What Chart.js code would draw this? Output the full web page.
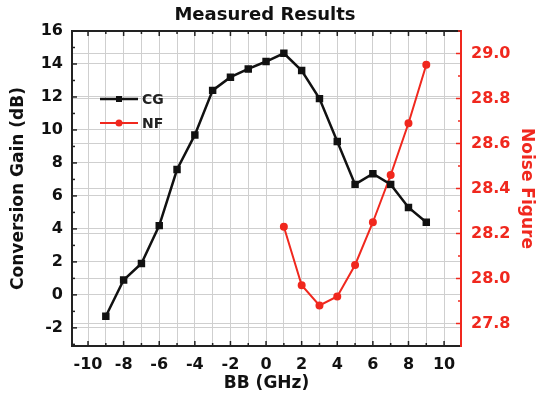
<!DOCTYPE html>
<html>
<head>
<meta charset="utf-8">
<script src="https://cdn.jsdelivr.net/npm/chart.js@4"></script>
<style>
  html, body { margin: 0; padding: 0; background: #fff; }
  #wrap { width: 539px; height: 410px; }
</style>
</head>
<body>
<div id="wrap"><canvas id="chart" width="539" height="410"></canvas></div>
<script>
// data
const bbCG = [-9, -8, -7, -6, -5, -4, -3, -2, -1, 0, 1, 2, 3, 4, 5, 6, 7, 8, 9];
const cgDb = [-1.3, 0.9, 1.9, 4.2, 7.6, 9.7, 12.4, 13.2, 13.7, 14.15, 14.65, 13.6, 11.9, 9.3, 6.7, 7.35, 6.7, 5.3, 4.4];
const bbNF = [1, 2, 3, 4, 5, 6, 7, 8, 9];
const nfDb = [28.23, 27.97, 27.88, 27.92, 28.06, 28.25, 28.46, 28.69, 28.95];

// tick labels
const xTicks = [-10, -9, -8, -7, -6, -5, -4, -3, -2, -1, 0, 1, 2, 3, 4, 5, 6, 7, 8, 9, 10];
const cgTicks = [-2, 0, 2, 4, 6, 8, 10, 12, 14, 16];
const nfTicks = [27.8, 28.0, 28.2, 28.4, 28.6, 28.8, 29.0];

const RED = '#f0281e';
const FONT = "'DejaVu Sans', sans-serif";

// title, top frame, inward tick marks, legend
const extras = {
  id: 'extras',
  afterDraw(chart) {
    const c = chart.ctx, a = chart.chartArea;
    const sx = chart.scales.x, sy = chart.scales.y, sr = chart.scales.y1;
    c.save();
    // top border
    c.strokeStyle = '#222'; c.lineWidth = 2;
    c.beginPath(); c.moveTo(a.left, a.top); c.lineTo(a.right, a.top); c.stroke();
    // x ticks (bottom + top)
    c.lineWidth = 1.5;
    for (let v = -10; v <= 10; v += 1) {
      const px = sx.getPixelForValue(v);
      const len = v % 2 === 0 ? 5 : 3;
      c.beginPath();
      c.moveTo(px, a.bottom); c.lineTo(px, a.bottom - len);
      c.moveTo(px, a.top); c.lineTo(px, a.top + len);
      c.stroke();
    }
    // left ticks
    for (let v = -3; v <= 16; v += 1) {
      const py = sy.getPixelForValue(v);
      const len = v % 2 === 0 ? 5 : 3;
      c.beginPath(); c.moveTo(a.left, py); c.lineTo(a.left + len, py); c.stroke();
    }
    // right ticks
    c.strokeStyle = RED;
    for (let k = 278; k <= 291; k++) {
      const py = sr.getPixelForValue(k / 10);
      const len = k % 2 === 0 ? 5 : 3;
      c.beginPath(); c.moveTo(a.right, py); c.lineTo(a.right - len, py); c.stroke();
    }
    // title
    c.fillStyle = '#111';
    c.font = "bold 18px " + FONT;
    c.textAlign = 'center'; c.textBaseline = 'middle';
    c.fillText('Measured Results', 265, 15);
    // legend
    const ds = chart.data.datasets;
    const lx = a.left + 28, ly = a.top + 68;
    ds.forEach((d, i) => {
      const y = ly + i * 24;
      c.strokeStyle = d.borderColor; c.lineWidth = d.borderWidth;
      c.beginPath(); c.moveTo(lx, y); c.lineTo(lx + 38, y); c.stroke();
      c.fillStyle = d.borderColor;
      if (d.pointStyle === 'rect') c.fillRect(lx + 16, y - 3, 6, 6);
      else { c.beginPath(); c.arc(lx + 19, y, 3.5, 0, Math.PI * 2); c.fill(); }
      c.fillStyle = '#222';
      c.font = "bold 14px " + FONT;
      c.textAlign = 'left';
      c.fillText(d.label, lx + 42, y + 1);
    });
    c.restore();
  }
};

new Chart(document.getElementById('chart'), {
  type: 'line',
  data: {
    datasets: [
      {
        label: 'CG',
        data: bbCG.map((x, i) => ({ x: x, y: cgDb[i] })),
        borderColor: '#111',
        backgroundColor: '#111',
        borderWidth: 2.5,
        pointStyle: 'rect',
        pointRadius: 3.5,
        tension: 0,
        yAxisID: 'y'
      },
      {
        label: 'NF',
        data: bbNF.map((x, i) => ({ x: x, y: nfDb[i] })),
        borderColor: RED,
        backgroundColor: RED,
        borderWidth: 2,
        pointStyle: 'circle',
        pointRadius: 3,
        tension: 0,
        yAxisID: 'y1'
      }
    ]
  },
  options: {
    responsive: false,
    animation: false,
    layout: { padding: { top: 31, left: 0, right: 0, bottom: 0 } },
    plugins: { legend: { display: false }, title: { display: false }, tooltip: { enabled: false } },
    scales: {
      x: {
        type: 'linear', min: -10.9, max: 10.95,
        afterBuildTicks: s => { s.ticks = xTicks.map(v => ({ value: v })); },
        afterFit: s => { s.height = 64; },
        grid: { color: '#cfcfcf', lineWidth: 1, drawTicks: false },
        border: { color: '#222', width: 2 },
        ticks: {
          autoSkip: false, maxRotation: 0, padding: 9,
          color: '#111', font: { family: FONT, size: 16, weight: 'bold' },
          callback: v => (v % 2 === 0 ? v : '')
        },
        title: { display: true, text: 'BB (GHz)', color: '#111', font: { family: FONT, size: 17, weight: 'bold' }, padding: { top: 0, bottom: 16 } }
      },
      y: {
        type: 'linear', position: 'left', min: -3.1, max: 16,
        afterBuildTicks: s => { s.ticks = cgTicks.map(v => ({ value: v })); },
        afterFit: s => { s.width = 72; },
        grid: { color: '#cfcfcf', lineWidth: 1, drawTicks: false },
        border: { color: '#222', width: 2 },
        ticks: { padding: 9, color: '#111', font: { family: FONT, size: 16, weight: 'bold' } },
        title: { display: true, text: 'Conversion Gain (dB)', color: '#111', font: { family: FONT, size: 17, weight: 'bold' }, padding: { top: 8, bottom: 0 } }
      },
      y1: {
        type: 'linear', position: 'right', min: 27.7, max: 29.1,
        afterBuildTicks: s => { s.ticks = nfTicks.map(v => ({ value: v })); },
        afterFit: s => { s.width = 78; },
        grid: { color: '#cfcfcf', lineWidth: 1, drawTicks: false },
        border: { color: RED, width: 2 },
        ticks: { padding: 10, color: RED, font: { family: FONT, size: 16, weight: 'bold' }, callback: v => v.toFixed(1) },
        title: { display: true, text: 'Noise Figure', color: RED, font: { family: FONT, size: 17, weight: 'bold' }, padding: { top: 2, bottom: 0 } }
      }
    }
  },
  plugins: [extras]
});
</script>
</body>
</html>
